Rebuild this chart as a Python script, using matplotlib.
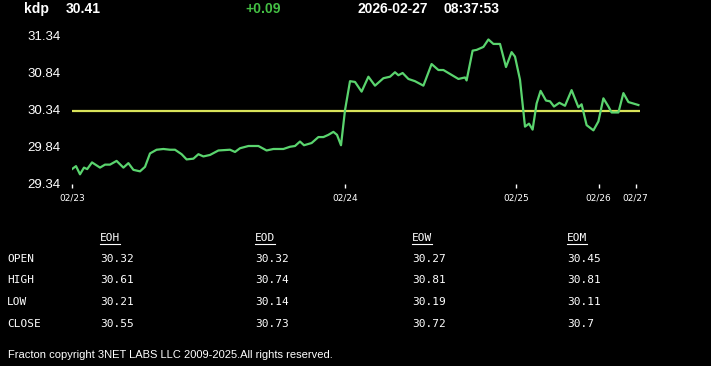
import matplotlib.pyplot as plt
import numpy as np

# quote header
symbol = 'kdp'
last = '30.41'
change = '+0.09'
stamp_date = '2026-02-27'
stamp_time = '08:37:53'

# price trace (t = bar index, p = price)
t = [0, 2, 4, 6, 7.6, 10, 14, 16.5, 19, 22.3, 25.7, 28.2, 30.7, 34, 36.5, 39, 42.3,
     45.7, 49, 51.5, 54.8, 57.3, 60.7, 63.2, 65.7, 69, 73.2, 79, 81.5, 84, 88.2, 93.2,
     97.3, 100.7, 105.7, 109, 111.5, 114, 116, 119.8, 123.2, 125.7, 128.2, 130.7, 132.5,
     134.5, 136.5, 139, 141.5, 144.8, 148.2, 151.5, 155.7, 159, 161.5, 163.2, 165.3,
     168.2, 171.5, 175.7, 179.8, 183.2, 185.7, 193.2, 196.5, 197.3, 200.3, 202.3, 205.7,
     208.2, 210.7, 214, 217, 219.8, 221.5, 224, 226.5, 228.5, 230.3, 232.3, 234.3, 237,
     239, 241, 243.7, 246.5, 249.8, 253.2, 254.8, 257.3, 260.7, 263.2, 265.7, 268.2,
     269.8, 273.2, 275.7, 278.2, 283.2]
p = [29.54, 29.58, 29.47, 29.56, 29.54, 29.63, 29.56, 29.60, 29.60, 29.65, 29.56, 29.62,
     29.53, 29.51, 29.57, 29.75, 29.80, 29.81, 29.80, 29.80, 29.74, 29.67, 29.68, 29.74,
     29.71, 29.73, 29.79, 29.80, 29.77, 29.82, 29.85, 29.85, 29.79, 29.81, 29.81, 29.84,
     29.85, 29.91, 29.86, 29.89, 29.97, 29.97, 30.00, 30.04, 30.00, 29.86, 30.33, 30.72,
     30.71, 30.58, 30.78, 30.66, 30.76, 30.78, 30.84, 30.80, 30.83, 30.75, 30.72, 30.66,
     30.95, 30.87, 30.87, 30.75, 30.77, 30.73, 31.13, 31.14, 31.18, 31.28, 31.22, 31.22,
     30.91, 31.11, 31.05, 30.74, 30.11, 30.15, 30.07, 30.42, 30.59, 30.46, 30.45, 30.38,
     30.43, 30.39, 30.60, 30.37, 30.41, 30.13, 30.06, 30.18, 30.49, 30.38, 30.30, 30.30,
     30.56, 30.44, 30.40]
ref_level = 30.32

day_pos = [0, 136.5, 222, 263.3, 281.8]
day_labels = ['02/23', '02/24', '02/25', '02/26', '02/27']
y_ticks = [29.34, 29.84, 30.34, 30.84, 31.34]

# stats table
cols = ['EOH', 'EOD', 'EOW', 'EOM']
rows = ['OPEN', 'HIGH', 'LOW', 'CLOSE']
open_v = ['30.32', '30.32', '30.27', '30.45']
high_v = ['30.61', '30.74', '30.81', '30.81']
low_v = ['30.21', '30.14', '30.19', '30.11']
close_v = ['30.55', '30.73', '30.72', '30.7']

W, H = 711, 366
fig = plt.figure(figsize=(W / 100, H / 100), dpi=100, facecolor='black')
ax = fig.add_axes([72 / W, (H - 184) / H, 568 / W, 149 / H], facecolor='black')

ax.plot(t, p, color='#5ad46e', lw=1.6, solid_joinstyle='round', zorder=3)
ax.plot([0, 284], [ref_level, ref_level], color='#d9e35a', lw=1.6, zorder=2)

ax.set_xlim(0, 284)
ax.set_ylim(29.34, 31.34)
for s in ax.spines.values():
    s.set_visible(False)
ax.set_xticks(day_pos)
ax.set_xticklabels(day_labels, fontsize=6.5, color='white', family='DejaVu Sans')
ax.set_yticks(y_ticks)
ax.set_yticklabels([f'{v:.2f}' for v in y_ticks], fontsize=9.5, color='white',
                   family='Liberation Sans')
ax.tick_params(axis='x', colors='white', length=3, width=1, pad=4)
ax.tick_params(axis='y', length=0, pad=8)

hdr = dict(fontsize=10, fontweight='bold', family='Liberation Sans', va='center')
fig.text(24 / W, 1 - 9 / H, symbol, color='white', **hdr)
fig.text(66 / W, 1 - 9 / H, last, color='white', **hdr)
fig.text(245 / W, 1 - 9 / H, change, color='#44c044', **hdr)
fig.text(357 / W, 1 - 9 / H, stamp_date, color='white', **hdr)
fig.text(444 / W, 1 - 9 / H, stamp_time, color='white', **hdr)

mono = dict(fontsize=8, family='DejaVu Sans Mono', color='white', va='center')
col_x = [100, 255, 412, 567]
row_y = [259, 280, 302, 324]
for cx, c in zip(col_x, cols):
    fig.text(cx / W, 1 - 238 / H, c, **mono)
    fig.add_artist(plt.Line2D([cx / W, (cx + 20) / W], [1 - 244 / H, 1 - 244 / H],
                              color='white', lw=0.8))
table = [open_v, high_v, low_v, close_v]
for ry, r, vals in zip(row_y, rows, table):
    fig.text(7 / W, 1 - ry / H, r, **mono)
    for cx, v in zip(col_x, vals):
        fig.text(cx / W, 1 - ry / H, v, **mono)

fig.text(8 / W, 1 - 355 / H, 'Fracton copyright 3NET LABS LLC 2009-2025.All rights reserved.',
         fontsize=8, family='Liberation Sans', color='white', va='center')

fig.savefig('out.png', dpi=100, facecolor='black')
